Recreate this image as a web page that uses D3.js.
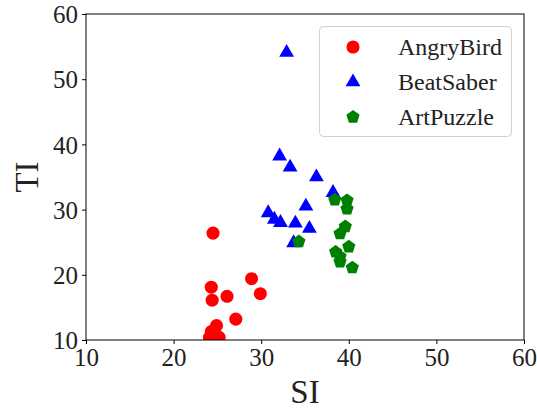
<!DOCTYPE html>
<html>
<head>
<meta charset="utf-8">
<script src="https://cdn.jsdelivr.net/npm/d3@7"></script>
<style>
body { margin: 0; background: #fff; }
text { font-family: "Liberation Serif", "DejaVu Serif", serif; fill: #222; }
</style>
</head>
<body>
<div id="chart"></div>
<script>
// data
var angryX = [24.5, 24.3, 24.4, 26.1, 28.9, 29.9, 27.1, 24.9, 24.3, 24.1, 25.2];
var angryY = [26.4, 18.1, 16.1, 16.7, 19.4, 17.1, 13.2, 12.2, 11.3, 10.4, 10.4];
var beatX = [32.9, 32.1, 33.3, 36.3, 38.2, 35.1, 30.8, 31.5, 32.2, 33.9, 35.5, 33.7];
var beatY = [54.1, 38.2, 36.5, 35.0, 32.6, 30.5, 29.5, 28.5, 28.0, 27.9, 27.1, 24.9];
var artX = [34.3, 38.4, 39.8, 39.8, 39.6, 39.0, 40.0, 38.5, 39.0, 39.0, 40.4];
var artY = [25.1, 31.5, 31.4, 30.1, 27.4, 26.3, 24.3, 23.5, 22.8, 22.0, 21.1];
var seriesNames = ["AngryBird", "BeatSaber", "ArtPuzzle"];
var xTicks = [10, 20, 30, 40, 50, 60];
var yTicks = [10, 20, 30, 40, 50, 60];

var w = 537;
var h = 410;
var margin = {left: 86, right: 13, top: 14, bottom: 70};

var xScale = d3.scaleLinear().domain([10, 60]).range([margin.left, w - margin.right]);
var yScale = d3.scaleLinear().domain([10, 60]).range([h - margin.bottom, margin.top]);

var svg = d3.select("#chart").append("svg").attr("width", w).attr("height", h);

var series = [
    {name: seriesNames[0], xs: angryX, ys: angryY, color: "#ff0000", shape: d3.symbolCircle, size: 135},
    {name: seriesNames[1], xs: beatX, ys: beatY, color: "#0000ff", shape: d3.symbolTriangle, size: 95},
    {name: seriesNames[2], xs: artX, ys: artY, color: "#008000", shape: pentagon, size: 115}
];

// pentagon symbol, point up
var pentagon = {
    draw: function(ctx, size) {
        var r = Math.sqrt(size / 2.378);
        for (var i = 0; i < 5; i++) {
            var a = -Math.PI / 2 + i * 2 * Math.PI / 5;
            if (i == 0) ctx.moveTo(r * Math.cos(a), r * Math.sin(a));
            else ctx.lineTo(r * Math.cos(a), r * Math.sin(a));
        }
        ctx.closePath();
    }
};
series[2].shape = pentagon;

var plot = svg.append("g");
plot.append("clipPath").attr("id", "clip")
    .append("rect")
    .attr("x", margin.left).attr("y", margin.top)
    .attr("width", xScale(60) - xScale(10)).attr("height", yScale(10) - yScale(60));

var marks = plot.append("g").attr("clip-path", "url(#clip)");
series.forEach(function(s) {
    marks.append("g")
    .selectAll("path")
    .data(s.xs.map(function(x, i) { return [x, s.ys[i]]; }))
    .enter()
    .append("path")
    .attr("d", d3.symbol().type(s.shape).size(s.size))
    .attr("transform", function(d) {
        return "translate(" + xScale(d[0]) + "," + yScale(d[1]) + ")";
    })
    .attr("fill", s.color);
});

// axes
var xAxis = d3.axisBottom(xScale).tickValues(xTicks).tickSize(4).tickPadding(3);
var yAxis = d3.axisLeft(yScale).tickValues(yTicks).tickSize(4).tickPadding(4);

var gx = svg.append("g").attr("transform", "translate(0," + yScale(10) + ")").call(xAxis);
var gy = svg.append("g").attr("transform", "translate(" + xScale(10) + ",0)").call(yAxis);
[gx, gy].forEach(function(g) {
    g.select(".domain").remove();
    g.selectAll("line").attr("stroke", "#000");
    g.selectAll("text").style("font-size", "25px").attr("fill", "#222")
        .style("font-family", "'Liberation Serif', serif");
});
gx.selectAll("text").attr("dy", "0.75em");
gy.selectAll("text").attr("dy", "0.35em");

// frame
svg.append("rect")
    .attr("x", xScale(10)).attr("y", yScale(60))
    .attr("width", xScale(60) - xScale(10)).attr("height", yScale(10) - yScale(60))
    .attr("fill", "none").attr("stroke", "#000").attr("stroke-width", 1);

// axis labels
svg.append("text")
    .attr("x", (xScale(10) + xScale(60)) / 2).attr("y", 403)
    .attr("text-anchor", "middle").style("font-size", "33px").text("SI");
svg.append("text")
    .attr("transform", "translate(38," + (yScale(10) + yScale(60)) / 2 + ") rotate(-90)")
    .attr("text-anchor", "middle").style("font-size", "33px").text("TI");

// legend
var legend = svg.append("g");
legend.append("rect")
    .attr("x", 319.5).attr("y", 26.5).attr("width", 192).attr("height", 110)
    .attr("rx", 4).attr("fill", "#fff").attr("fill-opacity", 0.8)
    .attr("stroke", "#d0d0d0").attr("stroke-width", 1);
series.forEach(function(s, i) {
    var yy = 47 + i * 35;
    legend.append("path")
        .attr("d", d3.symbol().type(s.shape).size(s.size))
        .attr("transform", "translate(353," + yy + ")")
        .attr("fill", s.color);
    legend.append("text")
        .attr("x", 398).attr("y", yy).attr("dy", "0.35em")
        .style("font-size", "24px").text(s.name);
});
</script>
</body>
</html>
